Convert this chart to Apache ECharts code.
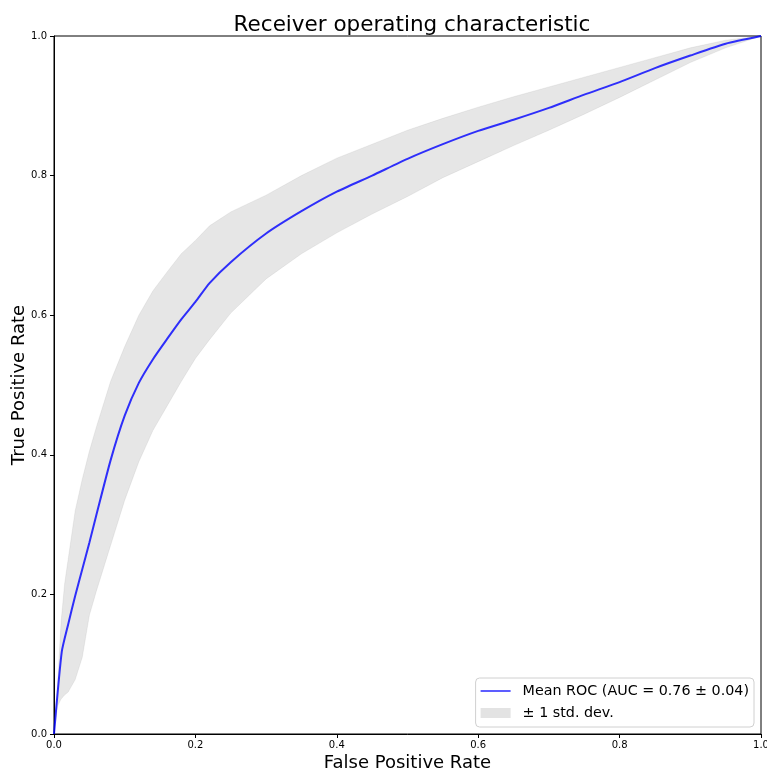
<!DOCTYPE html>
<html>
<head>
<meta charset="utf-8">
<script src="https://cdn.jsdelivr.net/npm/echarts@6/dist/echarts.min.js"></script>
<style>html,body{margin:0;padding:0;background:#fff}#c{width:767px;height:771px}</style>
</head>
<body>
<div id="c"></div>
<script>
// Mean ROC curve (FPR, TPR)
const meanFpr = [0, 0.011, 0.02, 0.03, 0.04, 0.05, 0.06, 0.08, 0.10, 0.12, 0.14, 0.16, 0.18, 0.20, 0.22, 0.25, 0.30, 0.35, 0.40, 0.45, 0.50, 0.55, 0.60, 0.65, 0.70, 0.75, 0.80, 0.85, 0.90, 0.95, 1.0];
const meanTpr = [0, 0.118, 0.157, 0.198, 0.236, 0.274, 0.314, 0.392, 0.456, 0.503, 0.537, 0.566, 0.594, 0.619, 0.646, 0.676, 0.717, 0.749, 0.777, 0.800, 0.824, 0.845, 0.864, 0.880, 0.897, 0.916, 0.934, 0.954, 0.972, 0.989, 1.0];

// ±1 std. dev. band, on a shared FPR grid
const bandFpr = [0, 0.005, 0.01, 0.015, 0.02, 0.03, 0.04, 0.05, 0.06, 0.08, 0.10, 0.12, 0.14, 0.16, 0.18, 0.20, 0.22, 0.25, 0.30, 0.35, 0.40, 0.45, 0.50, 0.55, 0.60, 0.65, 0.70, 0.75, 0.80, 0.85, 0.90, 0.95, 1.0];
const bandUpper = [0, 0.07, 0.16, 0.215, 0.25, 0.32, 0.365, 0.405, 0.44, 0.505, 0.555, 0.600, 0.635, 0.662, 0.688, 0.707, 0.728, 0.748, 0.772, 0.800, 0.825, 0.845, 0.865, 0.882, 0.898, 0.913, 0.927, 0.941, 0.955, 0.969, 0.983, 0.994, 1.0];
const bandLower = [0, 0.04, 0.05, 0.056, 0.06, 0.078, 0.11, 0.17, 0.205, 0.27, 0.335, 0.39, 0.435, 0.47, 0.505, 0.538, 0.565, 0.603, 0.652, 0.688, 0.718, 0.745, 0.770, 0.797, 0.820, 0.843, 0.865, 0.888, 0.912, 0.937, 0.962, 0.983, 1.0];

// Axis ticks
const xTicks = [0.0, 0.2, 0.4, 0.6, 0.8, 1.0];
const yTicks = [0.0, 0.2, 0.4, 0.6, 0.8, 1.0];

const meanName = 'Mean ROC (AUC = 0.76 ± 0.04)';
const bandName = '± 1 std. dev.';

const chart = echarts.init(document.getElementById('c'), null, {renderer: 'canvas'});
const font = 'DejaVu Sans';
const axisCommon = {
  type: 'value', min: xTicks[0], max: xTicks[xTicks.length - 1], interval: 0.2,
  axisLine: {show: true, onZero: false, lineStyle: {color: '#000', width: 1}},
  axisTick: {show: true, length: 4, lineStyle: {color: '#000'}},
  splitLine: {show: false},
  axisLabel: {fontFamily: font, fontSize: 10, color: '#000', formatter: v => v.toFixed(1)},
  nameLocation: 'middle',
  nameMoveOverlap: false,
  nameTextStyle: {fontFamily: font, fontSize: 18, color: '#000'}
};

// band polygon: upper edge forward, lower edge backward
const bandPoly = bandFpr.map((x, i) => [x, bandUpper[i]])
  .concat(bandFpr.map((x, i) => [x, bandLower[i]]).reverse());

chart.setOption({
  animation: false,
  backgroundColor: '#fff',
  title: {
    text: 'Receiver operating characteristic',
    left: 407, top: 9, textAlign: 'center',
    textStyle: {fontFamily: font, fontSize: 21.5, fontWeight: 'normal', color: '#000'}
  },
  grid: {left: 54, right: 6, top: 36, bottom: 37, outerBoundsMode: 'none', containLabel: false,
    show: true, borderColor: '#000', borderWidth: 1, backgroundColor: 'transparent'},
  xAxis: Object.assign({}, axisCommon, {name: 'False Positive Rate', nameGap: 20,
    axisLabel: Object.assign({}, axisCommon.axisLabel, {margin: 6})}),
  yAxis: Object.assign({}, axisCommon, {name: 'True Positive Rate', nameGap: 26,
    min: yTicks[0], max: yTicks[yTicks.length - 1],
    axisLabel: Object.assign({}, axisCommon.axisLabel, {margin: 7})}),
  legend: {
    orient: 'vertical', right: 13, bottom: 44,
    backgroundColor: '#fff', borderColor: '#d0d0d0', borderWidth: 1, borderRadius: 4,
    padding: [6, 5, 7, 5], itemGap: 8, itemWidth: 30, itemHeight: 10,
    textStyle: {fontFamily: font, fontSize: 14.3, lineHeight: 14, color: '#000', padding: [0, 0, 0, 7]},
    data: [
      {name: meanName, icon: 'path://M0,0 L30,0 L30,1.6 L0,1.6 Z', itemStyle: {color: 'rgba(0,0,255,0.8)'}},
      {name: bandName, icon: 'rect', itemStyle: {color: '#e3e3e3'}}
    ]
  },
  series: [
    {
      name: bandName, type: 'custom', silent: true, z: 1,
      itemStyle: {color: '#e3e3e3'},
      data: [0],
      renderItem: function (params, api) {
        const pts = bandPoly.map(p => api.coord(p));
        return {
          type: 'polygon',
          shape: {points: pts, smooth: 0},
          style: {fill: 'rgba(128,128,128,0.2)', stroke: 'rgba(128,128,128,0.12)', lineWidth: 1}
        };
      }
    },
    {
      name: meanName, type: 'line', symbol: 'none', smooth: 0.2,
      data: meanFpr.map((x, i) => [x, meanTpr[i]]),
      lineStyle: {color: 'rgba(0,0,255,0.8)', width: 2}, z: 3
    }
  ]
});
</script>
</body>
</html>
